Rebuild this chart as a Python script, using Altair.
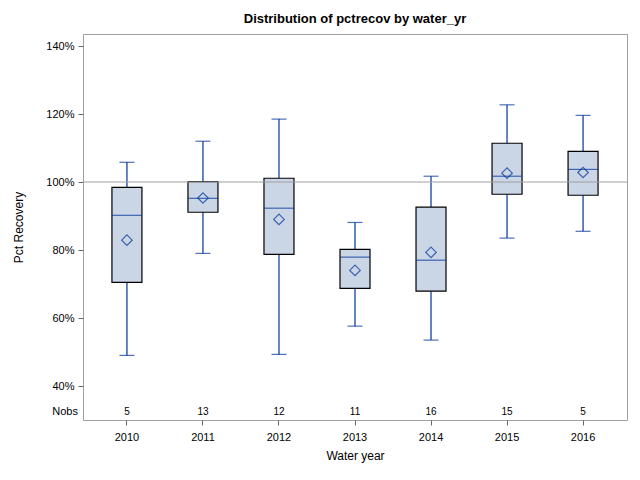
import altair as alt
import pandas as pd

years = ["2010", "2011", "2012", "2013", "2014", "2015", "2016"]
low = [49.0, 79.0, 49.3, 57.6, 53.5, 83.5, 85.5]
q1 = [70.5, 91.1, 78.7, 68.7, 67.9, 96.4, 96.1]
median = [90.2, 95.2, 92.3, 77.9, 77.0, 101.7, 103.7]
q3 = [98.4, 100.1, 101.1, 80.2, 92.6, 111.4, 109.0]
high = [105.8, 112.0, 118.5, 88.1, 101.7, 122.7, 119.6]
mean = [82.9, 95.3, 89.0, 74.0, 79.3, 102.6, 102.8]
nobs = [5, 13, 12, 11, 16, 15, 5]
ref_value = [100]
nobs_row = [32.4]

df = pd.DataFrame({"year": years, "low": low, "q1": q1, "median": median,
                   "q3": q3, "high": high, "mean": mean, "nobs": nobs,
                   "nobs_y": nobs_row * len(years)})

FONT = "Liberation Sans"
BLUE = "#003399"

xenc = alt.X("year:N", title="Water year",
             scale=alt.Scale(paddingInner=0, paddingOuter=0.078),
             axis=alt.Axis(labelAngle=0, tickSize=5, labelPadding=6, titlePadding=8,
                           domain=False))
yscale = alt.Scale(domain=[30, 143.53], nice=False, zero=False)
yaxis = alt.Axis(values=[40, 60, 80, 100, 120, 140], labelExpr="datum.value + '%'",
                 grid=False, tickSize=5, domain=False, labelPadding=4, titlePadding=20)

base = alt.Chart(df)

whisk_lo = base.mark_rule(color=BLUE, strokeWidth=1.2).encode(
    x=xenc, y=alt.Y("low:Q", scale=yscale, axis=yaxis, title="Pct Recovery"), y2="q1:Q")
whisk_hi = base.mark_rule(color=BLUE, strokeWidth=1.2).encode(
    x=xenc, y=alt.Y("q3:Q", scale=yscale), y2="high:Q")
cap_lo = base.mark_tick(color=BLUE, size=15, thickness=1.2, orient="horizontal").encode(
    x=xenc, y=alt.Y("low:Q", scale=yscale))
cap_hi = base.mark_tick(color=BLUE, size=15, thickness=1.2, orient="horizontal").encode(
    x=xenc, y=alt.Y("high:Q", scale=yscale))
box = base.mark_bar(size=30, fill="#CAD5E5", stroke="black", strokeWidth=1.2).encode(
    x=xenc, y=alt.Y("q1:Q", scale=yscale), y2="q3:Q")
ref = alt.Chart(pd.DataFrame({"v": ref_value})).mark_rule(color="#A0A0A0", strokeWidth=1).encode(
    y=alt.Y("v:Q", scale=yscale))
med = base.mark_tick(color=BLUE, size=30, thickness=1.2, orient="horizontal").encode(
    x=xenc, y=alt.Y("median:Q", scale=yscale))
mn = base.mark_point(shape="diamond", filled=False, color=BLUE, size=110, strokeWidth=1.2).encode(
    x=xenc, y=alt.Y("mean:Q", scale=yscale))
ntext = base.mark_text(font=FONT, fontSize=10, color="black", baseline="middle").encode(
    x=xenc, y=alt.Y("nobs_y:Q", scale=yscale), text="nobs:Q")
nlabel = alt.Chart(pd.DataFrame({"t": ["Nobs"], "y": nobs_row})).mark_text(
    font=FONT, fontSize=11, color="black", align="right", baseline="middle").encode(
    x=alt.value(-5), y=alt.Y("y:Q", scale=yscale), text="t:N")

chart = alt.layer(whisk_lo, whisk_hi, cap_lo, cap_hi, box, ref, med, mn, ntext, nlabel).properties(
    width=544, height=386,
    title=alt.Title("Distribution of pctrecov by water_yr", font=FONT, fontSize=13,
                    fontWeight="bold", color="black", offset=8),
    padding={"left": 75, "top": 26, "right": 5, "bottom": 50},
    autosize="none",
).configure_view(stroke="#A0A0A0", strokeWidth=1).configure_axis(
    labelFont=FONT, labelFontSize=11, labelColor="black",
    titleFont=FONT, titleFontSize=12, titleFontWeight="normal", titleColor="black",
    tickColor="#666666", tickWidth=1
)

chart.save("out.html", embed_options={"renderer": "svg", "actions": False})
